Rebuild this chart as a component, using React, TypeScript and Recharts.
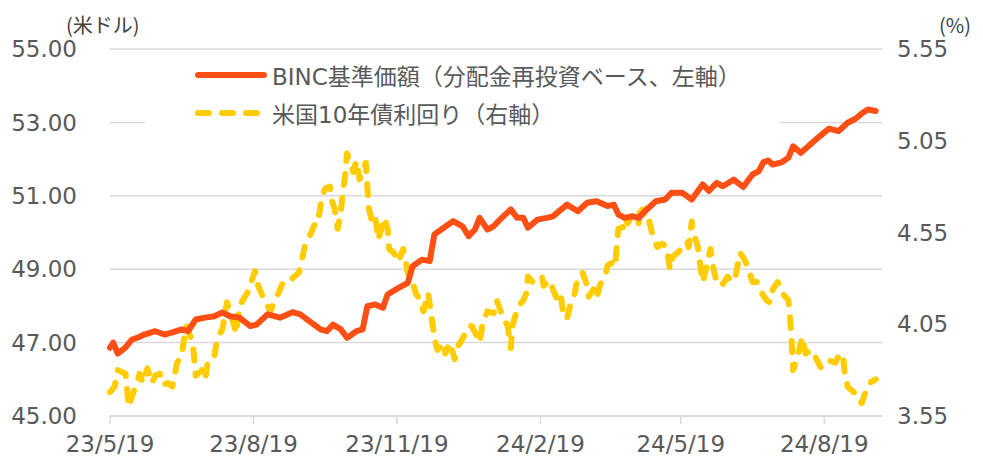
import { LineChart, Line, XAxis, YAxis, CartesianGrid } from "recharts"

// day offsets are counted from 2023/5/19
const xTickDays = [0, 92, 184, 276, 366, 458]
const xTickLabels = ["23/5/19", "23/8/19", "23/11/19", "24/2/19", "24/5/19", "24/8/19"]

const leftTicks = [45, 47, 49, 51, 53, 55]
const rightTicks = [3.55, 4.05, 4.55, 5.05, 5.55]

// BINC NAV (USD, dividends reinvested) — [day, value]
const bincNav: [number, number][] = [
  [0, 46.86], [2, 47.0], [5, 46.7], [10, 46.87], [14, 47.08], [18, 47.14], [22, 47.22],
  [29, 47.31], [35, 47.22], [40, 47.28], [46, 47.36], [50, 47.31], [55, 47.63], [61, 47.68],
  [67, 47.72], [72, 47.82], [77, 47.72], [83, 47.68], [90, 47.45], [94, 47.49], [101, 47.77],
  [109, 47.68], [117, 47.83], [122, 47.77], [128, 47.58], [135, 47.36], [139, 47.31],
  [143, 47.49], [148, 47.36], [152, 47.13], [158, 47.31], [162, 47.36], [165, 47.99],
  [170, 48.04], [175, 47.95], [178, 48.31], [185, 48.49], [191, 48.63], [194, 49.08],
  [200, 49.26], [205, 49.22], [208, 49.95], [214, 50.13], [220, 50.31], [226, 50.17],
  [230, 49.9], [234, 50.08], [237, 50.4], [242, 50.08], [246, 50.17], [250, 50.35],
  [257, 50.63], [261, 50.4], [265, 50.4], [268, 50.13], [274, 50.35], [280, 50.4],
  [284, 50.44], [293, 50.76], [300, 50.58], [306, 50.81], [312, 50.85], [319, 50.72],
  [323, 50.76], [326, 50.49], [330, 50.4], [335, 50.44], [339, 50.4], [343, 50.58],
  [350, 50.85], [356, 50.9], [360, 51.08], [367, 51.08], [373, 50.9], [380, 51.31],
  [384, 51.13], [389, 51.35], [393, 51.26], [400, 51.44], [406, 51.24], [412, 51.58],
  [416, 51.67], [419, 51.92], [422, 51.96], [425, 51.85], [431, 51.92], [435, 52.04],
  [438, 52.35], [443, 52.17], [449, 52.4], [455, 52.62], [461, 52.83], [467, 52.76],
  [473, 52.99], [478, 53.1], [482, 53.24], [486, 53.35], [491, 53.31],
]

// US 10y treasury yield (%) — [day, value]
const us10y: [number, number][] = [
  [0, 3.68], [3, 3.71], [5, 3.8], [10, 3.78], [12, 3.6], [15, 3.68], [17, 3.72], [19, 3.78],
  [21, 3.73], [24, 3.81], [27, 3.73], [29, 3.77], [32, 3.78], [34, 3.72], [37, 3.73],
  [40, 3.71], [43, 3.84], [46, 3.88], [48, 4.0], [49, 4.04], [53, 3.95], [55, 3.77],
  [59, 3.8], [61, 3.75], [63, 3.86], [67, 3.88], [69, 3.98], [72, 4.02], [75, 4.17],
  [79, 4.06], [81, 4.0], [83, 4.15], [88, 4.22], [91, 4.29], [93, 4.34], [95, 4.26],
  [97, 4.22], [99, 4.18], [103, 4.12], [105, 4.17], [108, 4.22], [111, 4.28], [114, 4.28],
  [117, 4.3], [121, 4.33], [123, 4.4], [125, 4.48], [128, 4.53], [131, 4.59], [133, 4.59],
  [136, 4.75], [138, 4.79], [141, 4.8], [142, 4.73], [144, 4.68], [146, 4.57], [148, 4.66],
  [149, 4.75], [151, 4.88], [152, 4.98], [154, 4.93], [156, 4.88], [158, 4.94], [160, 4.84],
  [164, 4.93], [165, 4.8], [166, 4.68], [168, 4.61], [170, 4.64], [172, 4.51], [176, 4.63],
  [178, 4.57], [179, 4.46], [182, 4.44], [185, 4.39], [188, 4.46], [191, 4.33], [194, 4.28],
  [196, 4.22], [199, 4.18], [201, 4.12], [204, 4.22], [207, 4.04], [208, 3.97], [210, 3.91],
  [214, 3.95], [215, 3.89], [218, 3.95], [221, 3.86], [223, 3.93], [226, 3.97], [230, 4.04],
  [232, 4.04], [235, 3.99], [237, 3.95], [239, 4.06], [242, 4.12], [246, 4.11], [248, 4.18],
  [251, 4.11], [255, 4.04], [257, 3.92], [258, 4.04], [260, 4.1], [262, 4.15], [265, 4.18],
  [267, 4.22], [268, 4.31], [271, 4.28], [275, 4.29], [277, 4.31], [278, 4.26], [282, 4.29],
  [284, 4.24], [287, 4.18], [289, 4.21], [291, 4.09], [293, 4.08], [295, 4.15], [298, 4.22],
  [300, 4.31], [303, 4.33], [306, 4.26], [307, 4.2], [310, 4.24], [312, 4.19], [314, 4.26],
  [318, 4.33], [319, 4.37], [323, 4.39], [324, 4.37], [325, 4.49], [326, 4.57], [329, 4.58],
  [330, 4.63], [332, 4.6], [335, 4.65], [337, 4.62], [339, 4.6], [340, 4.7], [342, 4.65],
  [344, 4.68], [345, 4.64], [348, 4.53], [351, 4.47], [354, 4.49], [357, 4.47], [359, 4.35],
  [361, 4.42], [364, 4.44], [368, 4.48], [370, 4.5], [371, 4.47], [373, 4.61], [374, 4.55],
  [377, 4.47], [378, 4.4], [380, 4.28], [383, 4.38], [385, 4.46], [387, 4.35], [389, 4.28],
  [391, 4.29], [393, 4.27], [396, 4.31], [399, 4.28], [401, 4.31], [404, 4.44], [407, 4.4],
  [409, 4.36], [412, 4.28], [415, 4.28], [418, 4.22], [421, 4.18], [423, 4.17], [425, 4.24],
  [428, 4.28], [431, 4.22], [435, 4.18], [436, 4.09], [437, 3.97], [438, 3.8], [441, 3.88],
  [444, 3.98], [446, 3.89], [450, 3.91], [453, 3.86], [456, 3.81], [460, 3.84], [462, 3.85],
  [465, 3.84], [468, 3.89], [470, 3.88], [471, 3.79], [473, 3.71], [477, 3.68], [479, 3.64],
  [482, 3.62], [484, 3.67], [487, 3.73], [491, 3.75],
]

const ORANGE = "#FF4F14"
const YELLOW = "#FFCC00"
const GRID = "#D9D9D9"
const TEXT = "#595959"
const NUM_FONT = "'DejaVu Sans', 'Noto Sans CJK JP', sans-serif"

const bincData = bincNav.map(([d, v]) => ({ d, v }))
const yieldData = us10y.map(([d, v]) => ({ d, v }))

const legendItems = [
  { label: "BINC基準価額（分配金再投資ベース、左軸）", color: ORANGE, dash: undefined },
  { label: "米国10年債利回り（右軸）", color: YELLOW, dash: "11 13" },
]

// legend box sits over the plot with a white fill (it hides part of the 53.00 gridline)
function ChartLegend() {
  return (
    <div
      style={{
        position: "absolute",
        left: 145,
        top: 56,
        width: 635,
        height: 78,
        background: "#fff",
        fontFamily: NUM_FONT,
      }}
    >
      {legendItems.map((it, i) => (
        <div
          key={i}
          style={{
            position: "absolute",
            left: 50,
            top: i === 0 ? 3 : 41,
            height: 32,
            display: "flex",
            alignItems: "center",
            whiteSpace: "nowrap",
          }}
        >
          <svg width={77} height={12}>
            <line
              x1={3}
              y1={6}
              x2={69}
              y2={6}
              stroke={it.color}
              strokeWidth={6}
              strokeLinecap="round"
              strokeDasharray={it.dash}
            />
          </svg>
          <span style={{ fontSize: 23, color: TEXT }}>{it.label}</span>
        </div>
      ))}
    </div>
  )
}

export default function App() {
  return (
    <div style={{ position: "absolute", left: 0, top: 0, width: 983, height: 461, background: "#fff" }}>
      <LineChart width={983} height={461} margin={{ top: 49, right: 41, bottom: 5, left: 50 }}>
        <CartesianGrid yAxisId="left" vertical={false} stroke={GRID} strokeWidth={1.5} />
        <XAxis
          dataKey="d"
          type="number"
          domain={[0, 495]}
          ticks={xTickDays}
          tickFormatter={(d: number) => xTickLabels[xTickDays.indexOf(d)] ?? ""}
          height={40}
          allowDuplicatedCategory={false}
          axisLine={{ stroke: GRID, strokeWidth: 1.5 }}
          tickLine={{ stroke: GRID, strokeWidth: 1.5 }}
          tickSize={8}
          tickMargin={12}
          tick={{ fill: TEXT, fontSize: 23, fontFamily: NUM_FONT }}
          interval={0}
        />
        <YAxis
          yAxisId="left"
          domain={[45, 55]}
          ticks={leftTicks}
          tickFormatter={(v: number) => v.toFixed(2)}
          width={60}
          axisLine={false}
          tickLine={false}
          tickSize={0}
          tickMargin={33}
          tick={{ fill: TEXT, fontSize: 23, fontFamily: NUM_FONT }}
          interval={0}
        />
        <YAxis
          yAxisId="right"
          orientation="right"
          domain={[3.55, 5.55]}
          ticks={rightTicks}
          tickFormatter={(v: number) => v.toFixed(2)}
          width={60}
          axisLine={false}
          tickLine={false}
          tickSize={0}
          tickMargin={15}
          tick={{ fill: TEXT, fontSize: 23, fontFamily: NUM_FONT }}
          interval={0}
        />
        <Line
          yAxisId="right"
          data={yieldData}
          dataKey="v"
          name="米国10年債利回り（右軸）"
          stroke={YELLOW}
          strokeWidth={6}
          strokeDasharray="11 13"
          strokeLinecap="round"
          strokeLinejoin="round"
          dot={false}
          isAnimationActive={false}
        />
        <Line
          yAxisId="left"
          data={bincData}
          dataKey="v"
          name="BINC基準価額（分配金再投資ベース、左軸）"
          stroke={ORANGE}
          strokeWidth={6}
          strokeLinecap="round"
          strokeLinejoin="round"
          dot={false}
          isAnimationActive={false}
        />
      </LineChart>
      <ChartLegend />
      <div
        style={{
          position: "absolute",
          left: 66,
          top: 11,
          fontSize: 20,
          color: "#404040",
          fontFamily: "'Noto Sans CJK JP', sans-serif",
          lineHeight: "28px",
        }}
      >
        (米ドル)
      </div>
      <div
        style={{
          position: "absolute",
          left: 939,
          top: 11,
          fontSize: 20,
          color: "#404040",
          fontFamily: "'Noto Sans CJK JP', sans-serif",
          lineHeight: "28px",
        }}
      >
        (%)
      </div>
    </div>
  )
}
